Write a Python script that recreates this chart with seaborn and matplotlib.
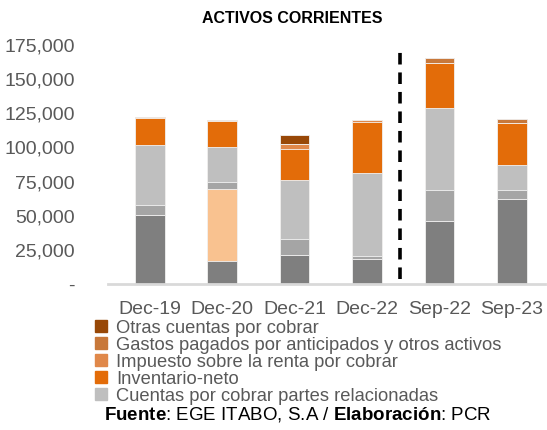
import numpy as np
import matplotlib.pyplot as plt
import pandas as pd
import seaborn as sns
from matplotlib.lines import Line2D

# Data
periods = ['Dec-19', 'Dec-20', 'Dec-21', 'Dec-22', 'Sep-22', 'Sep-23']
efectivo = [50500, 16800, 21200, 18300, 46100, 62200]
inversiones = [0, 52700, 0, 0, 0, 0]
cxc_comerciales = [7300, 5400, 11500, 2400, 22700, 6800]
cxc_relacionadas = [44000, 25100, 43400, 60300, 59800, 17900]
inventario = [20000, 19000, 22700, 37800, 33000, 30700]
impuesto = [0, 0, 3600, 1600, 0, 0]
gastos = [700, 1000, 0, 0, 4100, 3200]
otras = [0, 0, 6600, 0, 0, 0]

series = [
    ('Efectivo', efectivo, '#7F7F7F'),
    ('Inversiones', inversiones, '#F9C290'),
    ('Cuentas por cobrar comerciales', cxc_comerciales, '#A5A5A5'),
    ('Cuentas por cobrar partes relacionadas', cxc_relacionadas, '#BFBFBF'),
    ('Inventario-neto', inventario, '#E36C09'),
    ('Impuesto sobre la renta por cobrar', impuesto, '#E0884A'),
    ('Gastos pagados por anticipados y otros activos', gastos, '#C8783A'),
    ('Otras cuentas por cobrar', otras, '#984807'),
]
legend_names = ['Otras cuentas por cobrar',
                'Gastos pagados por anticipados y otros activos',
                'Impuesto sobre la renta por cobrar',
                'Inventario-neto',
                'Cuentas por cobrar partes relacionadas']

sns.set_theme(style="white")
plt.rcParams['font.family'] = ['Liberation Sans', 'DejaVu Sans']
plt.rcParams['mathtext.fontset'] = 'custom'
plt.rcParams['mathtext.rm'] = 'Liberation Sans'
plt.rcParams['mathtext.bf'] = 'Liberation Sans:bold'

fig = plt.figure(figsize=(5.47, 4.30), dpi=100)
ax = fig.add_axes([108 / 547, 1 - 284 / 430, 437 / 547, (284 - 45) / 430])

# stacked bars: draw cumulative totals from top layer down
cum = np.cumsum([s[1] for s in series], axis=0)
for i in range(len(series) - 1, -1, -1):
    df = pd.DataFrame({'Periodo': periods, 'Valor': cum[i]})
    sns.barplot(data=df, x='Periodo', y='Valor', color=series[i][2],
                width=0.41, saturation=1, edgecolor='#F2F2F2', linewidth=0.6, ax=ax)

ax.axvline(3.45, ymin=0.02, ymax=0.97, color='black', linestyle=(0, (3.2, 2.2)), linewidth=2.6)

ax.set_xlim(-0.58, 5.46)
ax.set_ylim(0, 175000)
ax.set_yticks(np.arange(0, 175001, 25000))
ax.set_yticklabels(['-'] + [f'{v:,}' for v in range(25000, 175001, 25000)])
ax.set_xlabel('')
ax.set_ylabel('')
ax.tick_params(axis='both', colors='#595959', labelsize=14, length=0)
ax.tick_params(axis='y', pad=24)
ax.tick_params(axis='x', pad=12)
for lbl in ax.get_yticklabels():
    lbl.set_horizontalalignment('right')
for side in ['top', 'right', 'left']:
    ax.spines[side].set_visible(False)
ax.spines['bottom'].set_color('#D9D9D9')
ax.spines['bottom'].set_linewidth(2)

fig.text(0.535, 0.958, 'ACTIVOS CORRIENTES', ha='center', va='center',
         fontsize=11.5, fontweight='bold', color='black')

colors = {s[0]: s[2] for s in series}
handles = [Line2D([], [], marker='s', linestyle='', markersize=8,
                  markerfacecolor=colors[n], markeredgecolor=colors[n]) for n in legend_names]
fig.legend(handles, legend_names, loc='upper left', bbox_to_anchor=(0.152, 0.278),
           frameon=False, fontsize=13.2, labelcolor='#595959', handletextpad=0.3,
           labelspacing=0.0, borderpad=0, handlelength=1.0)

fig.text(0.19, 0.035, r'$\mathbf{Fuente}$: EGE ITABO, S.A / $\mathbf{Elaboración}$: PCR',
         fontsize=13.5, color='black', va='center')

fig.savefig('out.png', dpi=100)
